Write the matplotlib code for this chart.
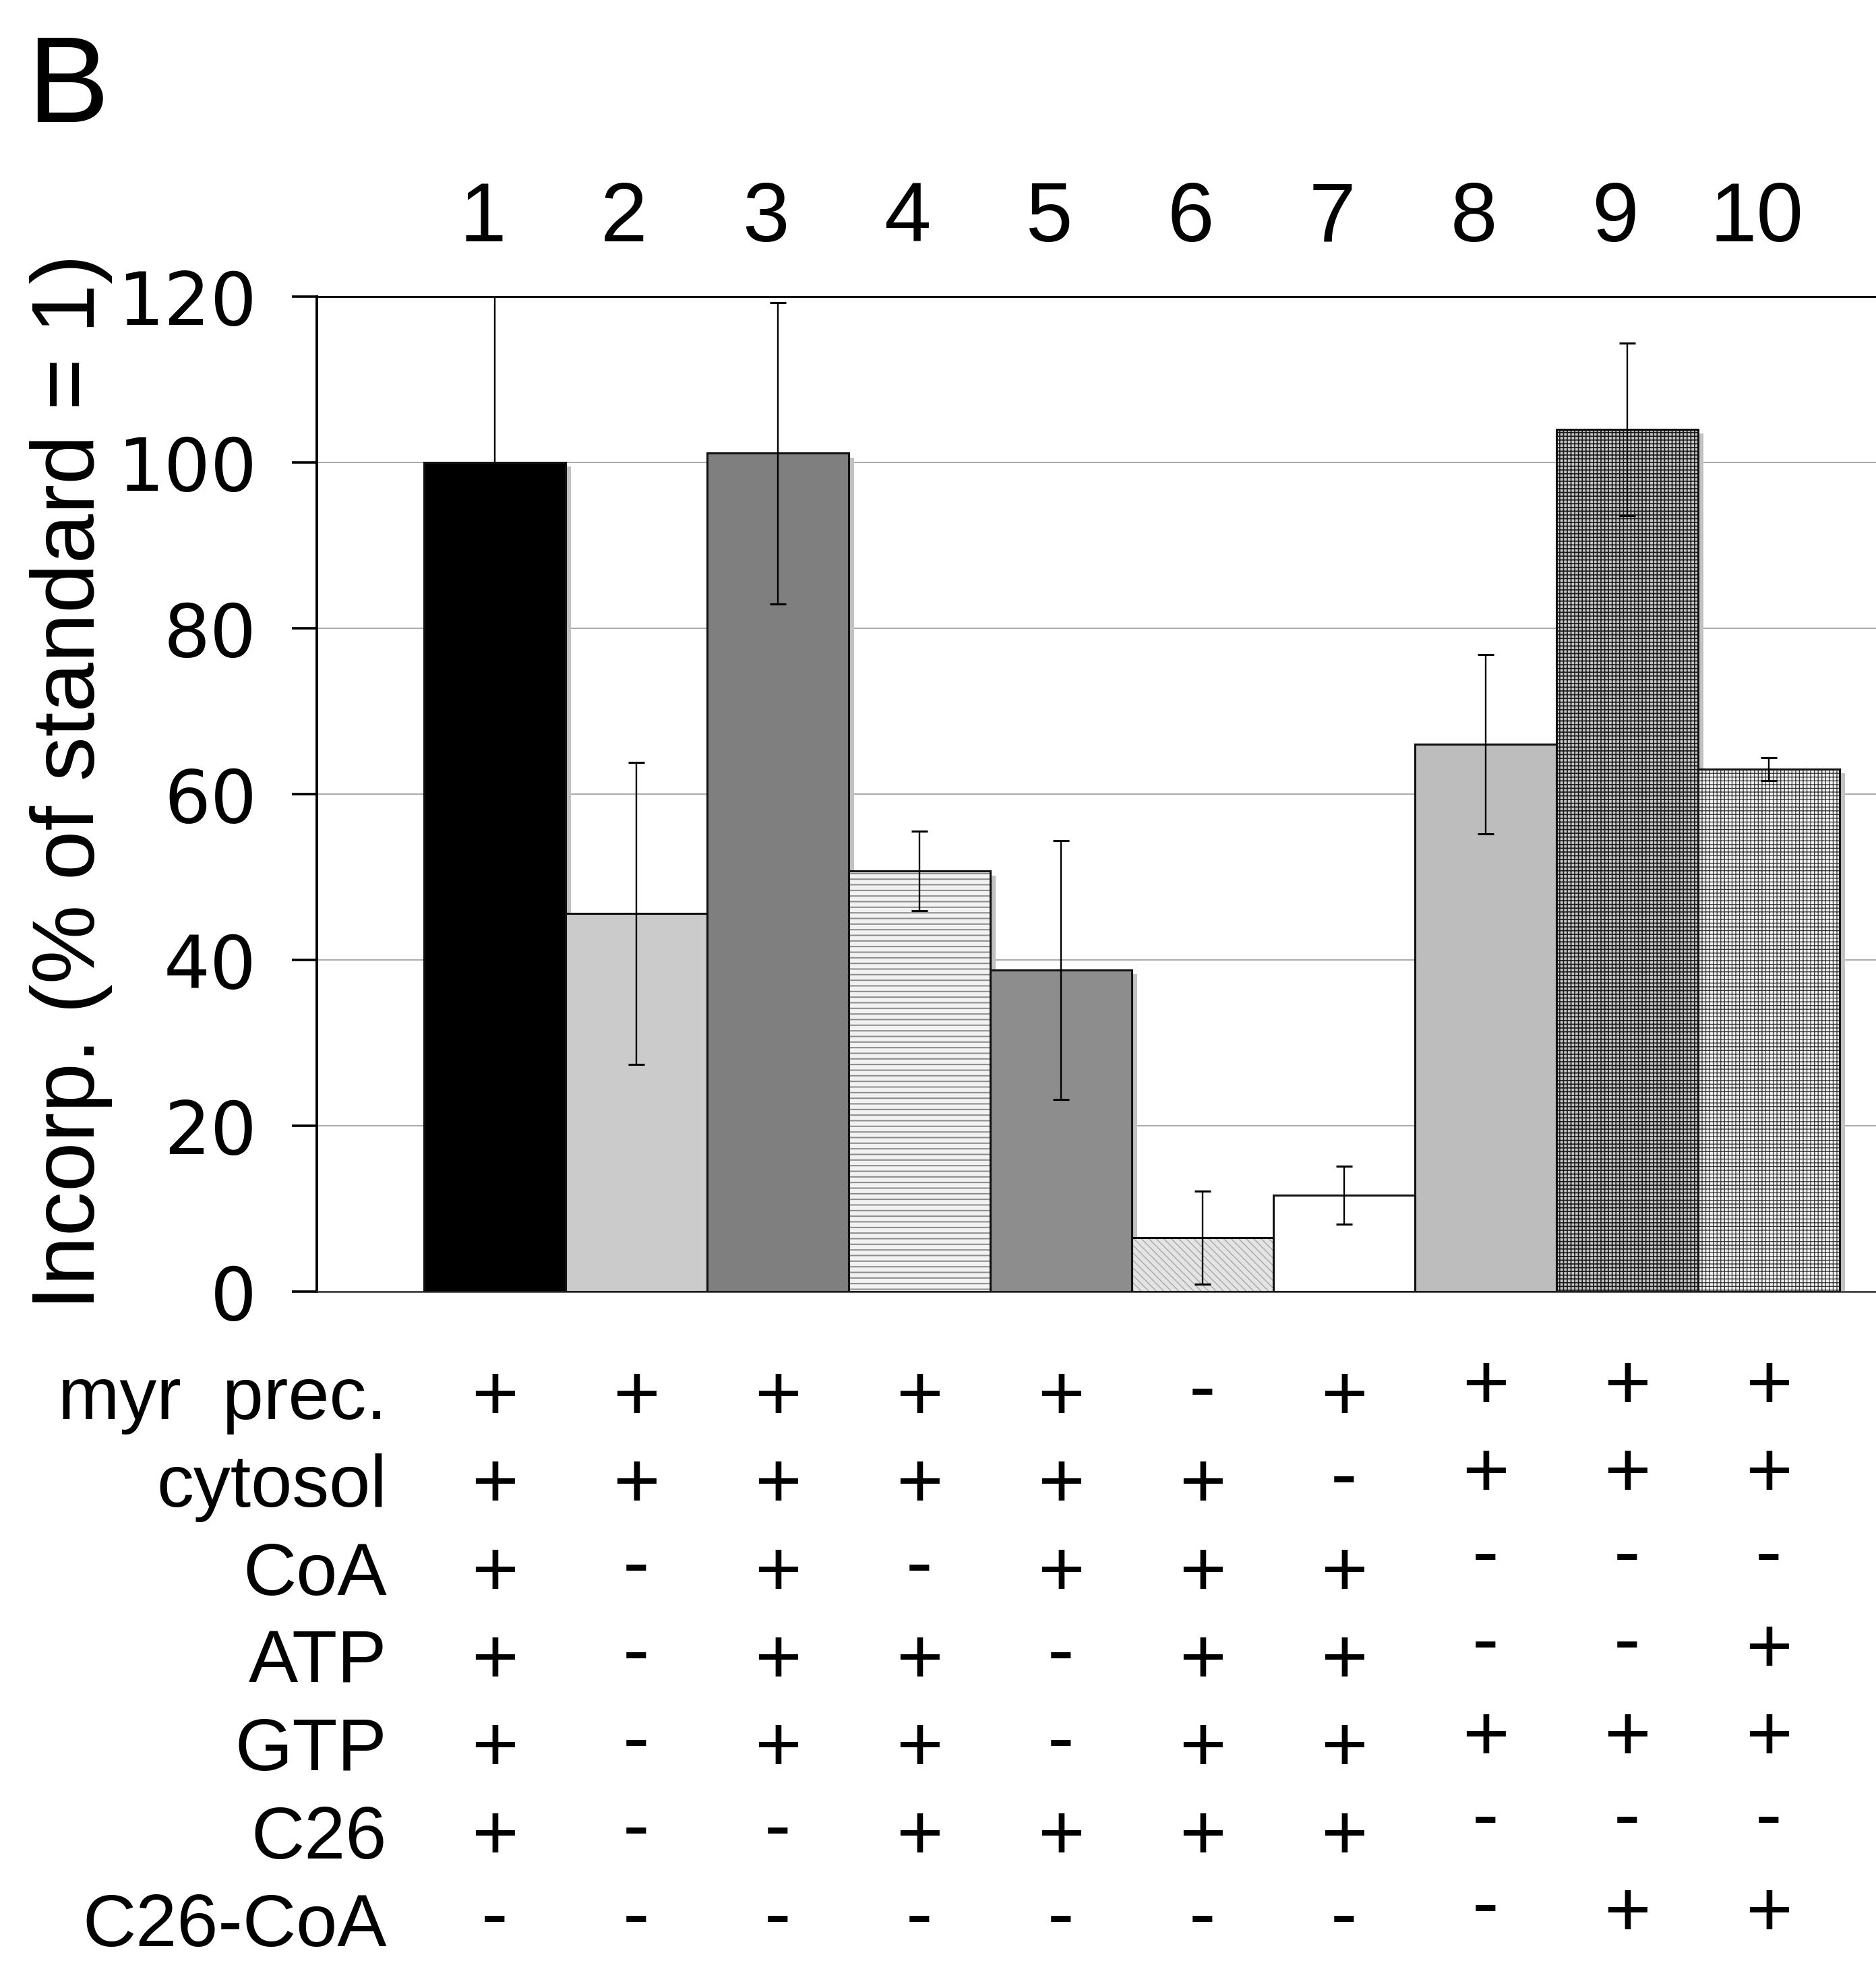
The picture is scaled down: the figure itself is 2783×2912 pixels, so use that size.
import matplotlib
matplotlib.use("Agg")
import matplotlib.pyplot as plt
import matplotlib.transforms as mtransforms
import numpy as np

# ---------------- data ----------------
lanes = ["1", "2", "3", "4", "5", "6", "7", "8", "9", "10"]
values = [100.0, 45.6, 101.1, 50.7, 38.8, 6.5, 11.6, 66.0, 104.0, 63.0]
errors = [21.0, 18.2, 18.2, 4.8, 15.6, 5.6, 3.5, 10.8, 10.4, 1.4]

conditions = ["myr  prec.", "cytosol", "CoA", "ATP", "GTP", "C26", "C26-CoA"]
myr_prec = ["+", "+", "+", "+", "+", "-", "+", "+", "+", "+"]
cytosol  = ["+", "+", "+", "+", "+", "+", "-", "+", "+", "+"]
coa      = ["+", "-", "+", "-", "+", "+", "+", "-", "-", "-"]
atp      = ["+", "-", "+", "+", "-", "+", "+", "-", "-", "+"]
gtp      = ["+", "-", "+", "+", "-", "+", "+", "+", "+", "+"]
c26      = ["+", "-", "-", "+", "+", "+", "+", "-", "-", "-"]
c26_coa  = ["-", "-", "-", "-", "-", "-", "-", "-", "+", "+"]
table = [myr_prec, cytosol, coa, atp, gtp, c26, c26_coa]

yticks = [0, 20, 40, 60, 80, 100, 120]
ylabel = "Incorp. (% of standard = 1)"
panel = "B"

# ---------------- styles ----------------
# (facecolor, hatch, hatch colour, hatch linewidth)
styles = [
    ("#000000", None, "#000000", 1.0),
    ("#cbcbcb", None, "#cbcbcb", 1.0),
    ("#7f7f7f", None, "#7f7f7f", 1.0),
    ("#f2f2f2", "--", "#8a8a8a", 1.4),
    ("#8d8d8d", None, "#8d8d8d", 1.0),
    ("#e4e4e4", "\\\\\\", "#a8a8a8", 1.0),
    ("#ffffff", None, "#ffffff", 1.0),
    ("#bdbdbd", None, "#bdbdbd", 1.0),
    ("#c8c8c8", "+++", "#1a1a1a", 1.2),
    ("#f4f4f4", "+++", "#303030", 0.9),
]

W, H, DPI = 2783, 2912, 100
plt.rcParams["font.family"] = ["DejaVu Sans"]
fig = plt.figure(figsize=(W / DPI, H / DPI), dpi=DPI)
fig.patch.set_facecolor("white")

ax_left, ax_right, ax_top, ax_bot = 470, W, 440, 1916
ax = fig.add_axes([ax_left / W, 1 - ax_bot / H, (ax_right - ax_left) / W, (ax_bot - ax_top) / H])

x = np.arange(len(values))
ax.set_xlim(-1.257, 9.757)
ax.set_ylim(0, 120)

# grid
ax.set_axisbelow(True)
ax.yaxis.grid(True, color="#a4a4a4", linewidth=1.3, zorder=0)

# shadows
ax.bar(x + 0.04, np.array(values) - 0.5, width=1.0, color="#c2c2c2", linewidth=0, zorder=1)

# fills
for i in range(len(values)):
    face, hatch, hcol, hlw = styles[i]
    plt.rcParams["hatch.linewidth"] = hlw
    bc = ax.bar(x[i], values[i], width=1.0, facecolor=face, edgecolor=hcol,
                hatch=hatch, linewidth=0, zorder=2)
    for p in bc:
        if hasattr(p, "set_hatch_linewidth"):
            p.set_hatch_linewidth(hlw)
plt.rcParams["hatch.linewidth"] = 1.0

# outlines
ax.bar(x, values, width=1.0, facecolor="none", edgecolor="#111111", linewidth=2.2, zorder=3)

# error bars
ax.errorbar(x, values, yerr=errors, fmt="none", ecolor="black", elinewidth=1.7,
            capsize=8.5, capthick=2.2, zorder=5)

# axes styling
ax.set_xticks([])
ax.set_yticks(yticks)
ax.set_yticklabels([str(t) for t in yticks])
ax.tick_params(axis="y", direction="out", length=27, width=2.6, pad=37,
               labelsize=78, colors="black")
for lab in ax.get_yticklabels():
    lab.set_fontfamily("DejaVu Sans")
ax.spines["right"].set_visible(False)
ax.spines["top"].set_linewidth(2.0)
ax.spines["top"].set_color("black")
ax.spines["left"].set_linewidth(2.8)
ax.spines["bottom"].set_linewidth(1.8)
ax.spines["bottom"].set_color("#333333")

# helpers
def fy(ypix):
    return 1 - ypix / H

blend = mtransforms.blended_transform_factory(ax.transData, fig.transFigure)

# lane numbers on top
for i, lab in enumerate(lanes):
    ax.text(x[i] - 0.086, fy(358), lab, transform=blend, ha="center", va="baseline",
            fontsize=90, family="Liberation Sans", color="black", clip_on=False)

# y label
fig.text(140 / W, fy(1160), ylabel, rotation=90, rotation_mode="anchor",
         ha="center", va="baseline", fontsize=95, family="Liberation Sans", color="black")

# panel letter
fig.text(40 / W, fy(181), panel, ha="left", va="baseline", fontsize=131,
         family="Liberation Sans", color="black")

# condition table
row_y0, row_dy = 2066, 130.3
for r, (name, signs) in enumerate(zip(conditions, table)):
    yc = row_y0 + r * row_dy
    fig.text(574 / W, fy(yc + 39), name, ha="right", va="baseline", fontsize=79,
             family="Liberation Sans", color="black")
    for i, s in enumerate(signs):
        shift = 16 if i >= 7 else 0
        base = yc + 40 - shift
        if s == "-":
            base -= 10
        ax.text(x[i], fy(base), s, transform=blend, ha="center", va="baseline",
                fontsize=86, family="Liberation Sans", color="black", clip_on=False)

fig.savefig("out.png", dpi=DPI, facecolor="white")
